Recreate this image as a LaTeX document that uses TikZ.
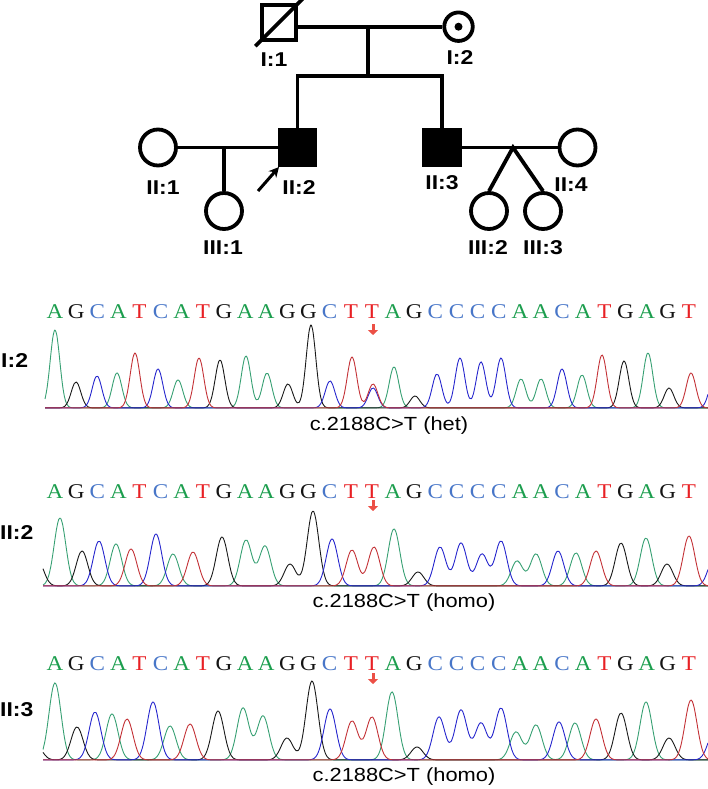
\documentclass[tikz,border=0pt]{standalone}
\usepackage{fontspec}
\setmainfont{Liberation Serif}
\setsansfont{Liberation Sans}
\newfontfamily\labfont[FakeStretch=1.15]{Liberation Sans}
\newfontfamily\seqfont[FakeStretch=1.1]{Liberation Serif}
\usetikzlibrary{arrows.meta}
\definecolor{colA}{RGB}{28,158,78}
\definecolor{colG}{RGB}{20,20,20}
\definecolor{colC}{RGB}{72,118,200}
\definecolor{colT}{RGB}{232,32,36}
\definecolor{trG}{RGB}{55,160,115}
\definecolor{trK}{RGB}{25,25,25}
\definecolor{trB}{RGB}{38,38,205}
\definecolor{trR}{RGB}{195,50,55}
\definecolor{arR}{RGB}{236,80,70}
\begin{document}
\begin{tikzpicture}[x=1pt,y=-1pt,
  declare function={gp(\x,\c,\a,\s)=\a*exp(-0.5*min(abs((\x-\c)/\s),4)^2);},
  ped/.style={line width=3.8pt},
  sqI/.style={draw,line width=3.8pt,minimum size=34.5pt,inner sep=0pt},
  sqA/.style={draw,fill=black,line width=3.8pt,minimum size=35.5pt,inner sep=0pt},
  circI/.style={circle,draw,line width=3.8pt,minimum size=28.5pt,inner sep=0pt},
  circ/.style={circle,draw,line width=3.8pt,minimum size=36pt,inner sep=0pt},
  dotc/.style={circle,fill=black,minimum size=8pt,inner sep=0pt},
  lab/.style={font=\labfont\bfseries\fontsize{20}{22}\selectfont,inner sep=0pt},
  mut/.style={font=\labfont\fontsize{19}{21}\selectfont,inner sep=0pt},
  seq/.style={font=\seqfont\fontsize{21}{23}\selectfont,inner sep=0pt},
  trace/.style={line width=0.9pt,line join=round},
  redarrow/.style={draw=arR,line width=3pt,-{Triangle[length=5pt,width=10pt]}}
]
\useasboundingbox (0,0) rectangle (708,789);

% ---------------- pedigree ----------------
\node[sqI] (I1) at (279,22.5) {};
\draw[ped] ([shift={(-4.5,4.5)}]I1.south west) -- ([shift={(4.5,-4.5)}]I1.north east);
\node[circI] (I2) at (458.5,26.7) {};
\node[dotc] (I2d) at (I2) {};
\node[lab] (lI1) at (274,60) {I:1};
\node[lab] (lI2) at (460,58) {I:2};

\draw[ped] (I1.east |- I2.west) -- (I2.west);
\coordinate (m1) at (368,26.7);
\coordinate (s1) at (368,76);
\draw[ped] (m1) -- (s1);

\node[circ] (II1) at (158,147.5) {};
\node[sqA] (II2) at (297.5,147.5) {};
\node[sqA] (II3) at (442,147.5) {};
\node[circ] (II4) at (577.5,147.5) {};
\draw[ped] (II2.north) -- (II2.north |- s1) -- (II3.north |- s1) -- (II3.north);
\draw[ped] (II1.east) -- (II2.west);
\draw[ped] (II3.east) -- (II4.west);

\node[circ] (III1) at (224,211) {};
\coordinate (c1) at (224,147.5);
\draw[ped] (c1) -- (III1.north);

\node[circ] (III2) at (489,211) {};
\node[circ] (III3) at (543,211) {};
\coordinate (tw) at (513,147.5);
\draw[ped,line join=miter] (III2.north) -- (tw) -- (III3.north);

\coordinate (pa) at (258,191);
\coordinate (pb) at (279,167);
\draw[line width=3pt,-{Stealth[length=10pt,width=10pt]}] (pa) -- (pb);

\node[lab] (lII1) at (163,188) {II:1};
\node[lab] (lII2) at (299,188) {II:2};
\node[lab] (lIII1) at (223,248) {III:1};
\node[lab] (lII3) at (442,183) {II:3};
\node[lab] (lII4) at (571,185) {II:4};
\node[lab] (lIII2) at (488,248) {III:2};
\node[lab] (lIII3) at (543,248) {III:3};

% ---------------- sequences ----------------
\foreach \r/\yy in {1/312,2/492,3/664}{
  \foreach \L [count=\i] in {A,G,C,A,T,C,A,T,G,A,A,G,G,C,T,T,A,G,C,C,C,C,A,A,C,A,T,G,A,G,T}{
    \node[seq,text=col\L] (r\r s\i) at ({55+(\i-1)*21.13},\yy) {\L};
  }
}
\coordinate (a1t) at (373,324); \coordinate (a1b) at (373,335);
\coordinate (a2t) at (373,500); \coordinate (a2b) at (373,511);
\coordinate (a3t) at (373,673); \coordinate (a3b) at (373,684);
\draw[redarrow] (a1t) -- (a1b);
\draw[redarrow] (a2t) -- (a2b);
\draw[redarrow] (a3t) -- (a3b);

% ---------------- sample labels ----------------
\node[lab,anchor=west] (cI2) at (1,361) {I:2};
\node[lab,anchor=west] (cII2) at (0,533) {II:2};
\node[lab,anchor=west] (cII3) at (0,710) {II:3};

\node[mut] (mu1) at (389,426) {c.2188C>T (het)};
\node[mut] (mu2) at (404,603) {c.2188C>T (homo)};
\node[mut] (mu3) at (404,777) {c.2188C>T (homo)};

% ---------------- traces row 1 ----------------
\begin{scope}
\clip (44,280) rectangle (708,412);
\draw[trace,trG] plot[smooth,domain=45:708,samples=340] (\x,{408-gp(\x,55,78,4.8)-gp(\x,117,35,4.8)-gp(\x,178,28,4.8)-gp(\x,246,52,4.8)-gp(\x,267,35,4.8)-gp(\x,394,41,4.8)-gp(\x,521,29,4.8)-gp(\x,541,29,4.8)-gp(\x,582,33,4.8)-gp(\x,648,55,4.8)});
\draw[trace,trK] plot[smooth,domain=45:708,samples=340] (\x,{408-gp(\x,76,26,4.8)-gp(\x,220,48,4.8)-gp(\x,288,24,4.8)-gp(\x,311,83,4.8)-gp(\x,415,12,4.8)-gp(\x,624,47,4.8)-gp(\x,669,20,4.8)});
\draw[trace,trB] plot[smooth,domain=45:708,samples=340] (\x,{408-gp(\x,97,32,4.8)-gp(\x,158,39,4.8)-gp(\x,330,27,4.8)-gp(\x,373,20,4.8)-gp(\x,437,34,4.8)-gp(\x,460,50,4.8)-gp(\x,481,46,4.8)-gp(\x,501,50,4.8)-gp(\x,562,39,4.8)-gp(\x,714,30,4.8)});
\draw[trace,trR] plot[smooth,domain=45:708,samples=340] (\x,{408-gp(\x,135,55,4.8)-gp(\x,199,50,4.8)-gp(\x,352,51,4.8)-gp(\x,373,24,4.8)-gp(\x,602,53,4.8)-gp(\x,691,35,4.8)});
\end{scope}

% ---------------- traces row 2 ----------------
\begin{scope}
\clip (42,460) rectangle (708,590);
\draw[trace,trG] plot[smooth,domain=43:708,samples=340] (\x,{586-gp(\x,60,68,5.8)-gp(\x,116,42,5.8)-gp(\x,173,32,5.8)-gp(\x,246,46,5.8)-gp(\x,265,40,5.8)-gp(\x,394,57,5.8)-gp(\x,517,25,5.8)-gp(\x,536,32,5.8)-gp(\x,576,33,5.8)-gp(\x,646,48,5.8)});
\draw[trace,trK] plot[smooth,domain=43:708,samples=340] (\x,{586-gp(\x,38,25,5.8)-gp(\x,82,35,5.8)-gp(\x,222,49,5.8)-gp(\x,290,22,5.8)-gp(\x,313,75,5.8)-gp(\x,418,14,5.8)-gp(\x,621,43,5.8)-gp(\x,667,22,5.8)});
\draw[trace,trB] plot[smooth,domain=43:708,samples=340] (\x,{586-gp(\x,99,45,5.8)-gp(\x,156,52,5.8)-gp(\x,332,47,5.8)-gp(\x,440,39,5.8)-gp(\x,461,43,5.8)-gp(\x,482,32,5.8)-gp(\x,501,45,5.8)-gp(\x,558,35,5.8)-gp(\x,714,28,5.8)});
\draw[trace,trR] plot[smooth,domain=43:708,samples=340] (\x,{586-gp(\x,131,37,5.8)-gp(\x,193,34,5.8)-gp(\x,352,36,5.8)-gp(\x,374,39,5.8)-gp(\x,596,35,5.8)-gp(\x,689,50,5.8)});
\end{scope}

% ---------------- traces row 3 ----------------
\begin{scope}
\clip (42,635) rectangle (708,764);
\draw[trace,trG] plot[smooth,domain=43:708,samples=340] (\x,{760-gp(\x,55,77,6)-gp(\x,112,46,6)-gp(\x,170,34,6)-gp(\x,243,52,6)-gp(\x,263,44,6)-gp(\x,392,68,6)-gp(\x,516,28,6)-gp(\x,536,35,6)-gp(\x,575,37,6)-gp(\x,646,58,6)});
\draw[trace,trK] plot[smooth,domain=43:708,samples=340] (\x,{760-gp(\x,36,15,6)-gp(\x,77,33,6)-gp(\x,218,49,6)-gp(\x,287,22,6)-gp(\x,312,79,6)-gp(\x,417,13,6)-gp(\x,621,47,6)-gp(\x,669,22,6)});
\draw[trace,trB] plot[smooth,domain=43:708,samples=340] (\x,{760-gp(\x,95,48,6)-gp(\x,153,58,6)-gp(\x,330,51,6)-gp(\x,439,43,6)-gp(\x,461,50,6)-gp(\x,481,37,6)-gp(\x,501,52,6)-gp(\x,559,38,6)-gp(\x,714,28,6)});
\draw[trace,trR] plot[smooth,domain=43:708,samples=340] (\x,{760-gp(\x,127,41,6)-gp(\x,190,36,6)-gp(\x,352,39,6)-gp(\x,372,43,6)-gp(\x,596,41,6)-gp(\x,691,60,6)});
\end{scope}
\end{tikzpicture}
\end{document}
